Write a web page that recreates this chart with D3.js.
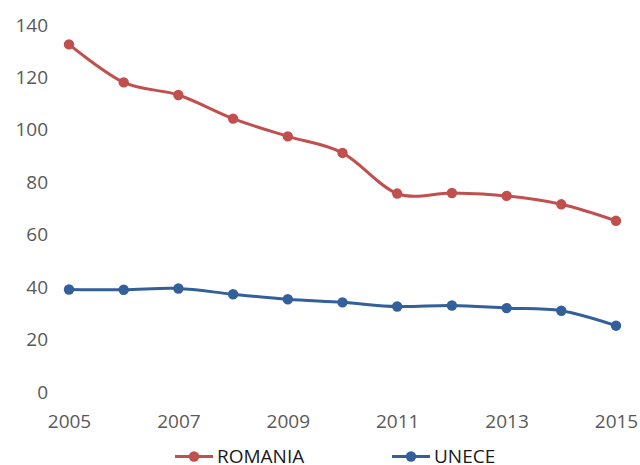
<!DOCTYPE html>
<html><head><meta charset="utf-8">
<script src="https://cdn.jsdelivr.net/npm/d3@7"></script>
<style>html,body{margin:0;padding:0;background:#fff;}svg{display:block;}</style>
</head><body>
<svg id="chart" width="640" height="465"></svg>
<script>
const years = [2005,2006,2007,2008,2009,2010,2011,2012,2013,2014,2015];
const romania = [132.6,118.1,113.3,104.3,97.5,91.2,75.7,75.9,74.8,71.6,65.3];
const unece = [39.1,39.0,39.5,37.3,35.4,34.2,32.6,33.0,32.0,31.0,25.3];
const yTicks = [0,20,40,60,80,100,120,140];
const xTicks = [2005,2007,2009,2011,2013,2015];
const seriesNames = ["ROMANIA","UNECE"];
const seriesColors = ["#C0504D","#33609A"];

const svg = d3.select("#chart");
const font = "'Open Sans', sans-serif";
const x = d3.scaleLinear().domain([2005,2015]).range([69,616]);
const y = d3.scaleLinear().domain([0,140]).range([392,25]);

const yAxis = svg.append("g").attr("transform","translate(48,0)")
  .call(d3.axisLeft(y).tickValues(yTicks).tickSize(0).tickPadding(0));
yAxis.select(".domain").remove();
yAxis.selectAll("text").attr("font-family",font).attr("font-size",19).attr("fill","#595959")
  .attr("text-anchor","end");

const xAxis = svg.append("g").attr("transform","translate(0,414)")
  .call(d3.axisBottom(x).tickValues(xTicks).tickFormat(d3.format("d")).tickSize(0).tickPadding(0));
xAxis.select(".domain").remove();
xAxis.selectAll("text").attr("font-family",font).attr("font-size",19).attr("fill","#595959");

const line = d3.line().x((d,i)=>x(years[i])).y(d=>y(d)).curve(d3.curveCardinal.tension(0));
[romania, unece].forEach((vals, k) => {
  svg.append("path").attr("d", line(vals)).attr("fill","none")
    .attr("stroke", seriesColors[k]).attr("stroke-width",3).attr("stroke-linejoin","round");
  svg.selectAll(null).data(vals).enter().append("circle")
    .attr("cx",(d,i)=>x(years[i])).attr("cy",d=>y(d)).attr("r",5.2).attr("fill",seriesColors[k]);
});

// legend
const legendX = [175, 392];
seriesNames.forEach((name,k) => {
  const g = svg.append("g").attr("transform",`translate(${legendX[k]},456.5)`);
  g.append("line").attr("x1",0).attr("x2",38).attr("y1",0).attr("y2",0)
    .attr("stroke",seriesColors[k]).attr("stroke-width",3);
  g.append("circle").attr("cx",19).attr("cy",0).attr("r",5.2).attr("fill",seriesColors[k]);
  g.append("text").attr("x",42).attr("y",0).attr("dy","0.35em").text(name)
    .attr("font-family",font).attr("font-size",19).attr("fill","#1a1a1a");
});
</script>
</body></html>
